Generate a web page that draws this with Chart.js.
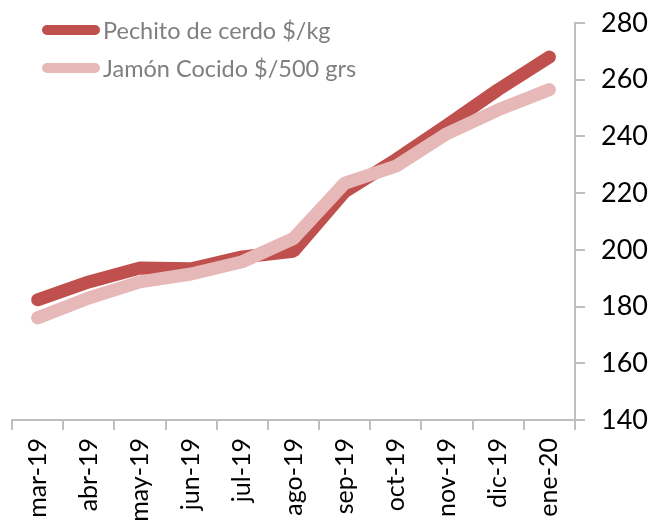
<!DOCTYPE html>
<html>
<head>
<meta charset="utf-8">
<script src="https://cdn.jsdelivr.net/npm/chart.js@4/dist/chart.umd.min.js"></script>
<style>
  body { margin: 0; background: #fff; }
  #wrap { position: relative; width: 654px; height: 523px; }
  #legend { position: absolute; left: 42px; top: 11px; font-family: Lato, sans-serif; font-size: 23.5px; color: #7F7F7F; }
  .item { display: flex; align-items: center; height: 38px; }
  .swatch { width: 58px; height: 10px; border-radius: 5px; margin-right: 3px; }
</style>
</head>
<body>
<div id="wrap">
  <canvas id="priceChart" width="654" height="523"></canvas>
  <div id="legend"></div>
</div>
<script>
const months = ['mar-19', 'abr-19', 'may-19', 'jun-19', 'jul-19', 'ago-19', 'sep-19', 'oct-19', 'nov-19', 'dic-19', 'ene-20'];
const pechito = [182.4, 188.7, 193.6, 193.3, 197.5, 199.5, 220.5, 231.8, 244, 256.5, 268];
const jamon = [176, 183, 188.7, 191.5, 195.8, 204, 223.5, 229.5, 241, 249.4, 256.5];
const yTicks = [140, 160, 180, 200, 220, 240, 260, 280];

const series = [
  { label: 'Pechito de cerdo $/kg', data: pechito, color: '#C0504D', order: 1 },
  { label: 'Jamón Cocido $/500 grs', data: jamon, color: '#E6B9B8', order: 0 },
];

// legend as plain html, stacked like the original
const legend = document.getElementById('legend');
series.forEach((s) => {
  const row = document.createElement('div');
  row.className = 'item';
  const sw = document.createElement('span');
  sw.className = 'swatch';
  sw.style.background = s.color;
  const txt = document.createElement('span');
  txt.textContent = s.label;
  row.appendChild(sw);
  row.appendChild(txt);
  legend.appendChild(row);
});

const ctx = document.getElementById('priceChart').getContext('2d');
new Chart(ctx, {
  type: 'line',
  data: {
    labels: months,
    datasets: series.map((s) => ({
      label: s.label,
      data: s.data,
      order: s.order, // jamon is drawn over pechito
      borderColor: s.color,
      backgroundColor: s.color,
      borderWidth: 13,
      borderCapStyle: 'round',
      borderJoinStyle: 'bevel',
      pointRadius: 0,
      tension: 0,
    })),
  },
  options: {
    responsive: false,
    animation: false,
    layout: { padding: { left: 12, top: 23, right: 0, bottom: 0 } },
    plugins: { legend: { display: false }, tooltip: { enabled: false } },
    scales: {
      x: {
        offset: true,
        grid: { offset: true, drawOnChartArea: false, tickLength: 10, color: '#BFBFBF', lineWidth: 2 },
        border: { color: '#BFBFBF', width: 2 },
        ticks: { color: '#000', font: { family: 'Lato', size: 25 }, minRotation: 90, maxRotation: 90, padding: 8 },
        afterFit: (scale) => { scale.height = 103; },
      },
      y: {
        position: 'right',
        min: 140,
        max: 280,
        afterBuildTicks: (scale) => { scale.ticks = yTicks.map((v) => ({ value: v })); },
        grid: { drawOnChartArea: false, tickLength: 10, color: '#BFBFBF', lineWidth: 2 },
        border: { color: '#BFBFBF', width: 2 },
        ticks: { color: '#000', font: { family: 'Lato', size: 27 }, padding: 16 },
        afterFit: (scale) => {
          scale.width = 79;
          // tick padding would otherwise push the plot top down
          scale.paddingTop = 0;
          scale.paddingBottom = 0;
        },
      },
    },
  },
});
</script>
</body>
</html>
